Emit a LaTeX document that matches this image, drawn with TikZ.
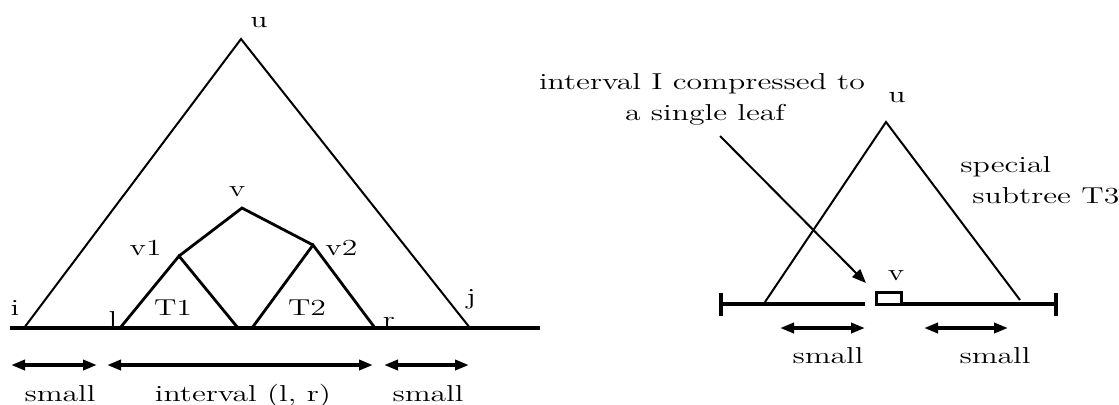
\documentclass[tikz,border=0pt]{standalone}
\usepackage{fontspec}
\newfontfamily\treefont{Latin Modern Roman}[FakeStretch=1.38]
\usetikzlibrary{arrows.meta, positioning}

\begin{document}
\begin{tikzpicture}[
    x = 0.5pt, y = -0.5pt,
    >={Triangle[length=7pt, width=5pt]},
    font = \treefont\fontsize{11.5}{15.5}\selectfont,
    tag/.style={
      inner sep = 0pt,
      anchor = base,
    },
    tree line/.style={
      line width = 1pt,
    },
    inner line/.style={
      line width = 1.4pt,
    },
    leaf line/.style={
      line width = 2pt,
    },
    span arrow/.style={
      <->,
      line width = 1.8pt,
    },
    note arrow/.style={
      -{Triangle[length=7pt, width=5.5pt]},
      line width = 1pt,
    },
  ]
  \useasboundingbox (0,0) rectangle (1119,404);

  \coordinate (u) at (241,39);
  \coordinate (i) at (24,328);
  \coordinate (j) at (470,328);
  \coordinate (v) at (242,208);
  \coordinate (v1) at (179,256);
  \coordinate (v2) at (313,245);
  \coordinate (l) at (120,328);
  \coordinate (t1-end) at (238,328);
  \coordinate (t2-start) at (252,328);
  \coordinate (r) at (375,328);
  \coordinate (line-start) at (10,328);
  \coordinate (line-end) at (540,328);

  \draw[leaf line] (line-start) -- (line-end);
  \draw[tree line] (i) -- (u) -- (j);
  \draw[inner line] (v1) -- (v) -- (v2);
  \draw[inner line] (l) -- (v1) -- (t1-end);
  \draw[inner line] (t2-start) -- (v2) -- (r);

  \node[tag] (u-lab) at (259,27) {u};
  \node[tag] (i-lab) at (15,315) {i};
  \node[tag] (j-lab) at (471,304) {j};
  \node[tag] (l-lab) at (113,327) {l};
  \node[tag] (r-lab) at (389,327) {r};
  \node[tag] (v-lab) at (237,196) {v};
  \node[tag, anchor = base east] (v1-lab) at (162,255) {v1};
  \node[tag, anchor = base west] (v2-lab) at (325,255) {v2};
  \node[tag] (t1-lab) at (173,315) {T1};
  \node[tag] (t2-lab) at (307,315) {T2};

  \coordinate (s1-a) at (11,365);
  \coordinate (s1-b) at (97,365);
  \coordinate (s2-a) at (107,365);
  \coordinate (s2-b) at (373,365);
  \coordinate (s3-a) at (384,365);
  \coordinate (s3-b) at (469,365);
  \draw[span arrow] (s1-a) -- (s1-b);
  \draw[span arrow] (s2-a) -- (s2-b);
  \draw[span arrow] (s3-a) -- (s3-b);
  \node[tag] (s1-lab) at (60,401) {small};
  \node[tag] (s2-lab) at (243,401) {interval (l, r)};
  \node[tag] (s3-lab) at (428,401) {small};

  \coordinate (ru) at (886,122);
  \coordinate (rl) at (765,302);
  \coordinate (rr) at (1020,300);
  \draw[tree line] (rl) -- (ru) -- (rr);

  \coordinate (tick-l) at (721,304);
  \coordinate (tick-r) at (1056,304);
  \coordinate (gap) at (865,304);
  \node[draw, line width = 1.4pt, inner sep = 0pt,
    minimum width = 12.5pt, minimum height = 6pt] (leaf) at (889,298.5) {};
  \draw[leaf line] (tick-l) -- (gap);
  \draw[leaf line] (leaf.east |- tick-r) -- (tick-r);
  \draw[leaf line] ([yshift=5.5pt]tick-l) -- ([yshift=-6pt]tick-l);
  \draw[leaf line] ([yshift=5.5pt]tick-r) -- ([yshift=-6pt]tick-r);

  \node[tag] (ru-lab) at (897,102) {u};
  \node[tag] (leaf-lab) at (896,280) {v};
  \node[tag, anchor = base west] (t3-lab) at (960,172) {special};
  \node[tag, anchor = base west] (t3-lab2) at (972,203) {subtree T3};

  \node[tag] (note) at (702,89) {interval I compressed to};
  \node[tag] (note-2) at (705,120) {a single leaf};
  \coordinate (note-start) at (720,136);
  \coordinate (note-end) at (866,283);
  \draw[note arrow] (note-start) -- (note-end);

  \coordinate (r1-a) at (780,328);
  \coordinate (r1-b) at (865,328);
  \coordinate (r2-a) at (924,328);
  \coordinate (r2-b) at (1008,328);
  \draw[span arrow] (r1-a) -- (r1-b);
  \draw[span arrow] (r2-a) -- (r2-b);
  \node[tag] (r1-lab) at (828,363) {small};
  \node[tag] (r2-lab) at (995,363) {small};
\end{tikzpicture}
\end{document}
